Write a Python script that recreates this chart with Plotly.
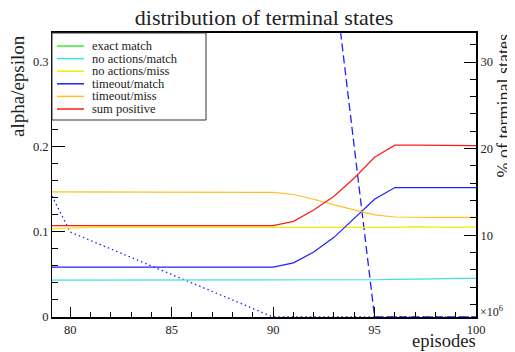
import plotly.graph_objects as go

# ---- data ----
episodes = list(range(79, 101))  # x 10^6

exact_match      = [0.0] * 22
no_actions_match = [4.8, 4.8, 4.8, 4.8, 4.8, 4.8, 4.8, 4.8, 4.8, 4.8, 4.8,
                    4.8, 4.8, 4.8, 4.8, 4.8, 4.85, 4.9, 4.9, 4.95, 5.0, 5.0]
no_actions_miss  = [10.75, 10.85, 10.9, 10.9, 10.9, 10.85, 10.9, 10.9, 10.85, 10.85, 10.9,
                    10.9, 10.9, 10.9, 10.9, 10.9, 10.9, 10.9, 10.95, 10.9, 10.9, 10.95]
timeout_match    = [6.3, 6.3, 6.3, 6.3, 6.3, 6.3, 6.3, 6.3, 6.3, 6.3, 6.3,
                    6.3, 6.8, 8.05, 9.75, 11.9, 14.15, 15.5, 15.5, 15.5, 15.5, 15.5]
timeout_miss     = [15.0, 15.0, 15.0, 14.95, 15.0, 15.0, 14.95, 15.0, 14.95, 15.0, 15.0,
                    14.95, 14.7, 14.15, 13.5, 12.9, 12.35, 12.1, 12.05, 12.05, 12.05, 12.05]
sum_positive     = [11.1, 11.1, 11.1, 11.1, 11.1, 11.1, 11.1, 11.1, 11.1, 11.1, 11.1,
                    11.1, 11.6, 12.9, 14.5, 16.6, 19.0, 20.4, 20.4, 20.4, 20.35, 20.35]

alpha   = [0.147, 0.100, 0.090, 0.080, 0.070, 0.060, 0.050, 0.040, 0.030, 0.020, 0.010,
           0.0, 0.0, 0.0, 0.0, 0.0, 0.0, 0.0, 0.0, 0.0, 0.0, 0.0]
epsilon = [1.0, 1.0, 1.0, 1.0, 1.0, 1.0, 1.0, 1.0, 1.0, 1.0, 1.0,
           1.0, 0.8, 0.6, 0.4, 0.2, 0.0, 0.0, 0.0, 0.0, 0.0, 0.0]

series_names  = ["exact match", "no actions/match", "no actions/miss",
                 "timeout/match", "timeout/miss", "sum positive"]
series_values = [exact_match, no_actions_match, no_actions_miss,
                 timeout_match, timeout_miss, sum_positive]
series_colors = ["#30f030", "#40e0e0", "#f5ea00", "#2020ff", "#ffc020", "#ff1a1a"]

x_ticks = [80, 85, 90, 95, 100]

FONT = "Liberation Serif, 'DejaVu Serif', serif"
TXT = "#222222"

fig = go.Figure()

for name, vals, col in zip(series_names, series_values, series_colors):
    fig.add_trace(go.Scatter(x=episodes, y=vals, name=name, mode="lines",
                             line=dict(color=col, width=1.2), yaxis="y2",
                             showlegend=False))

fig.add_trace(go.Scatter(x=episodes, y=alpha, name="alpha", mode="lines",
                         line=dict(color="#2020ff", width=1.3, dash="1.5px,3px"),
                         yaxis="y", showlegend=False))
fig.add_trace(go.Scatter(x=episodes, y=epsilon, name="epsilon", mode="lines",
                         line=dict(color="#2020ff", width=1.3, dash="8px,4px"),
                         yaxis="y", showlegend=False))

# page has an 8px body margin: figure starts at (8, 8) in the screenshot
OFF = 8
W, H = 515 - OFF, 352 - OFF
# desired plot area in screenshot px: x 52..476, y 33..317
L, R, T, B = 52 - OFF, 515 - 476, 33 - OFF, 352 - 317
pw, ph = W - L - R, H - T - B

def px_x(x):
    return (x - OFF - L) / pw

def px_y(y):
    return 1 - (y - OFF - T) / ph

shapes = [dict(type="rect", xref="paper", yref="paper",
               x0=0, x1=px_x(206), y0=px_y(120), y1=1,
               line=dict(color="#333333", width=1), fillcolor="white", layer="above")]
annotations = []
for i, (name, col) in enumerate(zip(series_names, series_colors)):
    yy = px_y(46 + 12.6 * i)
    shapes.append(dict(type="line", xref="paper", yref="paper",
                       x0=px_x(57), x1=px_x(84), y0=yy, y1=yy,
                       line=dict(color=col, width=1.5), layer="above"))
    annotations.append(dict(xref="paper", yref="paper", x=px_x(90), y=yy,
                            xanchor="left", yanchor="middle", text=name,
                            showarrow=False, font=dict(family=FONT, size=12.5, color=TXT)))

annotations += [
    dict(xref="paper", yref="paper", x=px_x(17), y=1, xanchor="center", yanchor="top",
         text="alpha/epsilon", textangle=-90, showarrow=False,
         font=dict(family=FONT, size=19, color=TXT)),
    dict(xref="paper", yref="paper", x=px_x(503), y=1, xanchor="center", yanchor="top",
         text="% of terminal states", textangle=-90, showarrow=False,
         font=dict(family=FONT, size=18, color=TXT)),
    dict(xref="paper", yref="paper", x=px_x(478), y=px_y(341), xanchor="right",
         yanchor="middle", text="episodes", showarrow=False,
         font=dict(family=FONT, size=18.5, color=TXT)),
    dict(xref="paper", yref="paper", x=px_x(478), y=px_y(311), xanchor="left",
         yanchor="middle", text="×10<sup>6</sup>", showarrow=False,
         font=dict(family=FONT, size=12, color=TXT)),
]

axis_font = dict(family=FONT, size=12.5, color=TXT)

fig.update_layout(
    width=W, height=H,
    margin=dict(l=L, r=R, t=T, b=B, autoexpand=False),
    paper_bgcolor="white", plot_bgcolor="white",
    showlegend=False,
    title=dict(text="distribution of terminal states", x=px_x(264), xref="paper",
               xanchor="center", y=1 - (17.5 - OFF) / H, yanchor="middle", yref="container",
               font=dict(family=FONT, size=22, color=TXT)),
    xaxis=dict(range=[79.1, 100], tickvals=x_ticks, ticks="inside", ticklen=10,
               tickwidth=1, tickcolor="black",
               minor=dict(dtick=1, ticklen=5, ticks="inside", tickcolor="black", tickwidth=1),
               showline=True, linewidth=2, linecolor="black", mirror=True,
               showgrid=False, zeroline=False, tickfont=axis_font),
    yaxis=dict(range=[0, 0.334], dtick=0.1, tick0=0, ticks="inside", ticklen=13,
               tickwidth=1, tickcolor="black",
               minor=dict(dtick=0.02, ticklen=6, ticks="inside", tickcolor="black", tickwidth=1),
               showline=True, linewidth=1, linecolor="black",
               showgrid=False, zeroline=False, tickfont=axis_font),
    yaxis2=dict(range=[0.55, 33.35], dtick=10, tick0=0, overlaying="y", side="right",
                ticks="inside", ticklen=12, tickwidth=1, tickcolor="black",
                minor=dict(dtick=2, ticklen=6, ticks="inside", tickcolor="black", tickwidth=1),
                showline=True, linewidth=2, linecolor="black",
                showgrid=False, zeroline=False, tickfont=axis_font),
    shapes=shapes,
    annotations=annotations,
)

fig.write_html("out.html")
